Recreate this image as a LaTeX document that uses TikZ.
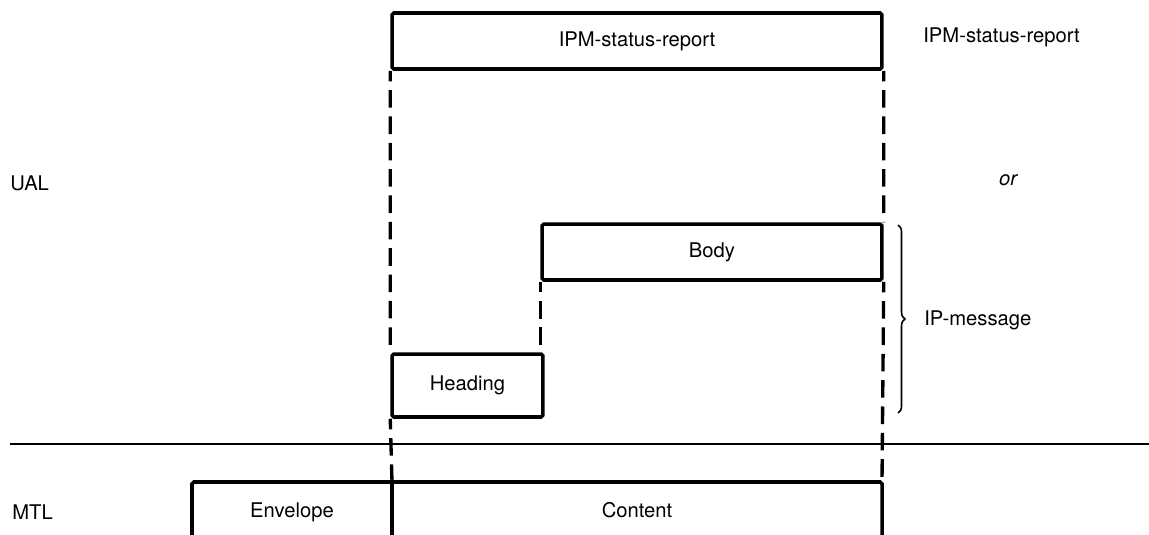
\documentclass[tikz,border=0pt]{standalone}
\usepackage{fontspec}
\setmainfont{TeX Gyre Heros}
\usetikzlibrary{decorations.pathreplacing}

\begin{document}
\begin{tikzpicture}[
  x=0.02cm, y=-0.02cm,
  font=\fontsize{11.5}{13}\selectfont,
  layer/.style={draw, line width=2pt, rounded corners=1pt, inner sep=0pt, align=center},
  frame/.style={line width=2pt, rounded corners=1pt},
  guide/.style={line width=1.9pt, dash pattern=on 10pt off 5pt, dash phase=4pt},
  sep/.style={line width=1.4pt},
  lbl/.style={inner sep=0pt}
]
\clip (0,0) rectangle (1149,534);

% user agent layer
\node[layer, minimum width=9.8cm, minimum height=1.12cm] (status) at (637,41) {IPM-status-report};
\node[layer, minimum width=6.8cm, minimum height=1.12cm] (body) at (712,252) {Body};
\node[layer, minimum width=3.02cm, minimum height=1.26cm] (heading) at (467.5,385.5) {Heading};

% message transfer layer, boxes open at the bottom
\coordinate (cl) at (392,482);
\coordinate (cr) at (882,482);
\draw[frame] (192,545) |- (cl) -| (882,545);
\draw[frame] (cl) -- (392,545);
\node[lbl] (envelope) at (292,512) {Envelope};
\node[lbl] (content) at (637,510) {Content};

% layer boundary
\draw[sep] (10,444) -- (1149,444);

% projections
\draw[guide] (status.south west) -- (heading.north west);
\draw[guide] (heading.south west) -- (cl);
\draw[guide] (status.south east) -- (body.north east);
\draw[guide] (body.south east) -- (cr);
\draw[guide] (body.south west) -- (body.south west |- heading.north);

% layer names
\node[lbl, anchor=west] (ual) at (10,183) {UAL};
\node[lbl, anchor=west] (mtl) at (12,512) {MTL};

% right hand side
\node[lbl, anchor=west] (report) at (923,37) {IPM-status-report};
\node[lbl] (alt) at (1008,180) {\itshape or};
\draw[line width=0.9pt, decorate, decoration={brace, amplitude=4pt}]
  (898,225) -- (898,413);
\node[lbl, anchor=west] (ipm) at (924,320) {IP-message};
\end{tikzpicture}
\end{document}
